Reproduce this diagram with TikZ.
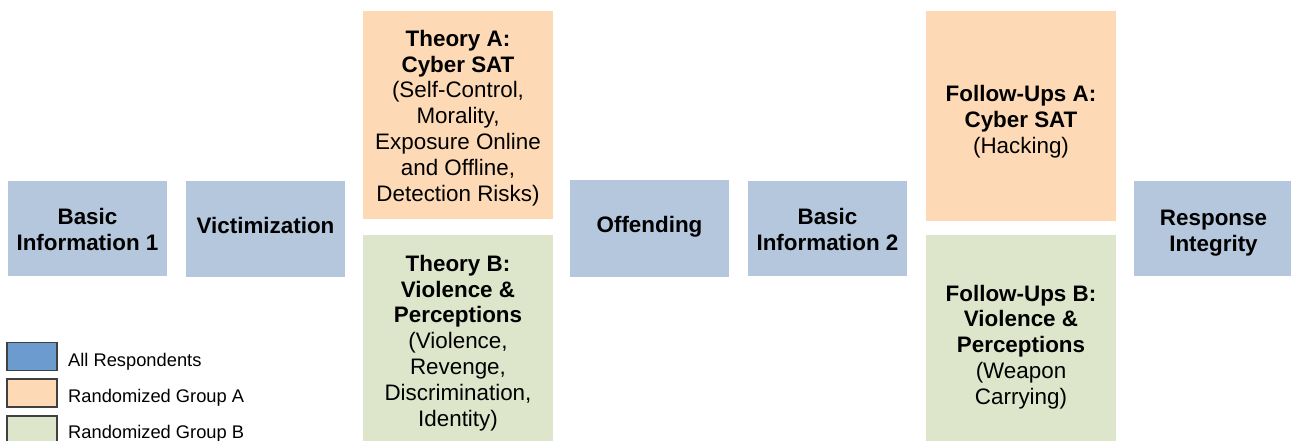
\documentclass[tikz,border=0pt]{standalone}
\usepackage{fontspec}
\setmainfont{Liberation Sans}
\usetikzlibrary{calc}
\definecolor{allblue}{HTML}{B4C7DC}
\definecolor{grpA}{HTML}{FDDAB5}
\definecolor{grpB}{HTML}{DDE6CA}
\definecolor{legblue}{HTML}{6C9BCF}
\definecolor{legborder}{HTML}{404040}
\tikzset{
  box/.style={fill=#1, draw=none, inner sep=0pt, anchor=center},
  boxtext/.style={inner sep=0pt, align=center, anchor=center,
    font=\fontsize{22.4}{25.8}\selectfont},
  legsq/.style={fill=#1, draw=legborder, line width=1.3pt, minimum width=50pt, minimum height=28pt, inner sep=0pt, anchor=center},
  legtext/.style={anchor=base west, inner sep=0pt, font=\fontsize{18.3}{21}\selectfont}
}
\begin{document}
\begin{tikzpicture}[x=1pt,y=-1pt]
\useasboundingbox (0,0) rectangle (1291,441);
\fill[white] (0,0) rectangle (1291,441);
% boxes
\node[box=allblue, minimum width=159pt, minimum height=95pt] (b1) at (87.5,228.5) {};
\node[box=allblue, minimum width=159pt, minimum height=96pt] (vic) at (265.5,229) {};
\node[box=grpA, minimum width=190pt, minimum height=208pt] (thA) at (458,115) {};
\node[box=grpB, minimum width=190pt, minimum height=210pt] (thB) at (458,340) {};
\node[box=allblue, minimum width=159pt, minimum height=97pt] (off) at (649.5,228.5) {};
\node[box=allblue, minimum width=159pt, minimum height=95pt] (bi2) at (827.5,228.5) {};
\node[box=grpA, minimum width=190pt, minimum height=210pt] (fuA) at (1021,116) {};
\node[box=grpB, minimum width=190pt, minimum height=218pt] (fuB) at (1021,344) {};
\node[box=allblue, minimum width=159pt, minimum height=95pt] (resp) at (1213.5,228.5) {};
% texts
\node[boxtext] (b1t) at ($(b1.center)+(0,1)$) {\textbf{Basic}\\\textbf{Information 1}};
\node[boxtext] (vict) at ($(vic.center)+(0,-4)$) {\textbf{Victimization}};
\node[boxtext] (thAt) at ($(thA.center)+(0,3)$) {\textbf{Theory A:}\\\textbf{Cyber SAT}\\(Self-Control,\\Morality,\\Exposure Online\\and Offline,\\Detection Risks)};
\node[boxtext] (thBt) at ($(thB.center)+(0,3)$) {\textbf{Theory B:}\\\textbf{Violence \&}\\\textbf{Perceptions}\\(Violence,\\Revenge,\\Discrimination,\\Identity)};
\node[boxtext] (offt) at ($(off.center)+(0,-1.3)$) {\textbf{Offending}};
\node[boxtext] (bi2t) at ($(bi2.center)+(0,1)$) {\textbf{Basic}\\\textbf{Information 2}};
\node[boxtext] (fuAt) at ($(fuA.center)+(0,6)$) {\textbf{Follow-Ups A:}\\\textbf{Cyber SAT}\\(Hacking)};
\node[boxtext] (fuBt) at ($(fuB.center)+(0,3)$) {\textbf{Follow-Ups B:}\\\textbf{Violence \&}\\\textbf{Perceptions}\\(Weapon\\Carrying)};
\node[boxtext] (respt) at ($(resp.center)+(0,4.5)$) {\textbf{Response}\\\textbf{Integrity}};
% legend
\node[legsq=legblue] (l1) at (32,356.5) {};
\node[legsq=grpA] (l2) at (32,393) {};
\node[legsq=grpB] (l3) at (32,430) {};
\node[legtext] (t1) at (68,366) {All Respondents};
\node[legtext] (t2) at (68,402.5) {Randomized Group A};
\node[legtext] (t3) at (68,438.5) {Randomized Group B};
\end{tikzpicture}
\end{document}
